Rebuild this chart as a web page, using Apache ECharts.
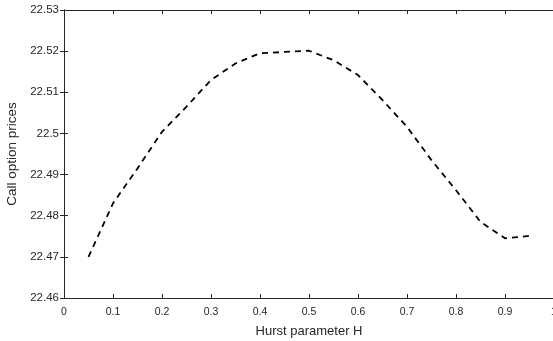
<!DOCTYPE html>
<html>
<head>
<meta charset="utf-8">
<script src="https://cdn.jsdelivr.net/npm/echarts@6/dist/echarts.min.js"></script>
<style>
  html, body { margin: 0; padding: 0; background: #fff; }
  #chart { width: 553px; height: 341px; }
</style>
</head>
<body>
<div id="chart"></div>
<script>
// Hurst parameter H vs call option price
const hurst = [0.05, 0.1, 0.15, 0.2, 0.25, 0.3, 0.35, 0.4, 0.45, 0.5,
               0.55, 0.6, 0.65, 0.7, 0.75, 0.8, 0.85, 0.9, 0.95];
const callPrices = [22.4700, 22.4830, 22.4915, 22.5004, 22.5065, 22.5130, 22.5170, 22.5195, 22.5198, 22.5201,
                    22.5178, 22.5142, 22.5081, 22.5016, 22.4935, 22.4862, 22.4785, 22.4745, 22.4751];

const axisColor = '#262626';
const font = 'Liberation Sans, Arial, sans-serif';

const boxAxis = {
    axisLine: {show: true, lineStyle: {color: axisColor, width: 1}},
    axisTick: {show: true, inside: true, length: 4, lineStyle: {color: axisColor}},
    splitLine: {show: false},
};

const option = {
    animation: false,
    grid: {left: 64, top: 10, bottom: 43, width: 490, containLabel: false, outerBoundsMode: 'none'},
    xAxis: [
        {
            ...boxAxis,
            type: 'value', min: 0, max: 1, interval: 0.1,
            name: 'Hurst parameter H', nameLocation: 'middle', nameGap: 27,
            nameTextStyle: {color: axisColor, fontSize: 13, fontFamily: font},
            axisLabel: {color: axisColor, fontSize: 10.5, fontFamily: font, margin: 9},
        },
        {...boxAxis, type: 'value', position: 'top', min: 0, max: 1, interval: 0.1, axisLabel: {show: false}}
    ],
    yAxis: [
        {
            ...boxAxis,
            type: 'value', min: 22.46, max: 22.53, interval: 0.01,
            name: 'Call option prices', nameLocation: 'middle', nameGap: 38,
            nameTextStyle: {color: axisColor, fontSize: 13.5, fontFamily: font},
            axisLabel: {color: axisColor, fontSize: 11.5, fontFamily: font, margin: 5,
                formatter: v => String(parseFloat(v.toFixed(2)))},
        },
        {...boxAxis, type: 'value', position: 'right', min: 22.46, max: 22.53, interval: 0.01, axisLabel: {show: false}}
    ],
    series: [{
        type: 'line',
        data: hurst.map((h, i) => [h, callPrices[i]]),
        symbol: 'none',
        lineStyle: {color: '#000', width: 1.8, type: [6, 5]},
    }]
};

const myChart = echarts.init(document.getElementById('chart'));
myChart.setOption(option);
</script>
</body>
</html>
